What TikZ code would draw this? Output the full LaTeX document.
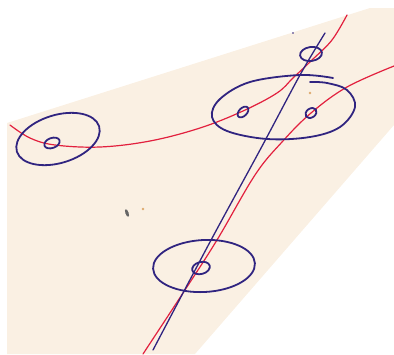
\documentclass[tikz,border=0pt]{standalone}
\usetikzlibrary{calc}
\definecolor{paper}{RGB}{250,240,227}
\definecolor{ink}{RGB}{48,36,128}
\definecolor{redink}{RGB}{226,32,62}
\definecolor{stain}{RGB}{222,170,110}
\tikzset{
  blueink/.style={draw=ink, line width=1.8pt, line cap=round, line join=round},
  redline/.style={draw=redink, line width=1.2pt, line cap=round, line join=round},
}
\begin{document}
\begin{tikzpicture}[x=1pt,y=-1pt]
\useasboundingbox (0,0) rectangle (394,354);
% paper sheet
\fill[paper] (7,123) -- (370,8) -- (394,8) -- (394,125) -- (195,354) -- (7,354) -- cycle;
% marks on the paper
\fill[gray!80!black, rotate around={-70:(127,213)}] (127,213) ellipse [x radius=4, y radius=1.6];
\fill[stain] (143,209) circle [radius=1.3];
\fill[stain] (310,93) circle [radius=1.3];
\fill[ink] (293,33) circle [radius=0.8];
% red curves
\draw[redline] plot[smooth, tension=0.6] coordinates {(10,125) (30,138) (55,145) (100,147) (150,141) (200,128) (243,111) (277,93) (293,78) (312,60) (332,40) (347,15)};
\draw[redline] plot[smooth, tension=0.6] coordinates {(394,66) (347,87) (311,113) (282,142) (255,175) (217,240) (183,293) (143,354)};
% blue straight-ish line
\draw[blueink, line width=1.3pt] plot[smooth, tension=0.5] coordinates {(325,33) (300,75) (260,150) (210,242) (153,350)};
% left ellipse
\draw[blueink, rotate around={17:(58,139)}] (58,139) ellipse [x radius=43, y radius=24];
\draw[blueink, rotate around={20:(52,143)}] (52,143) ellipse [x radius=8, y radius=5];
% big upper ellipse (hand drawn)
\draw[blueink] plot[smooth, tension=0.6] coordinates {(310,82) (327,83) (347,90) (355,107) (340,127) (310,137) (267,139) (227,131) (212,117) (220,99) (250,82) (300,75) (333,78)};
\draw[blueink, rotate around={45:(243,112)}] (243,112) ellipse [x radius=6.5, y radius=4];
\draw[blueink, rotate around={35:(311,113)}] (311,113) ellipse [x radius=6, y radius=4.5];
% top small ellipse
\draw[blueink, rotate around={8:(311,54)}] (311,54) ellipse [x radius=11, y radius=7];
% bottom ellipse
\draw[blueink, rotate around={3:(204,266)}] (204,266) ellipse [x radius=51, y radius=26];
\draw[blueink, rotate around={15:(201,268)}] (201,268) ellipse [x radius=9, y radius=6];
\end{tikzpicture}
\end{document}
